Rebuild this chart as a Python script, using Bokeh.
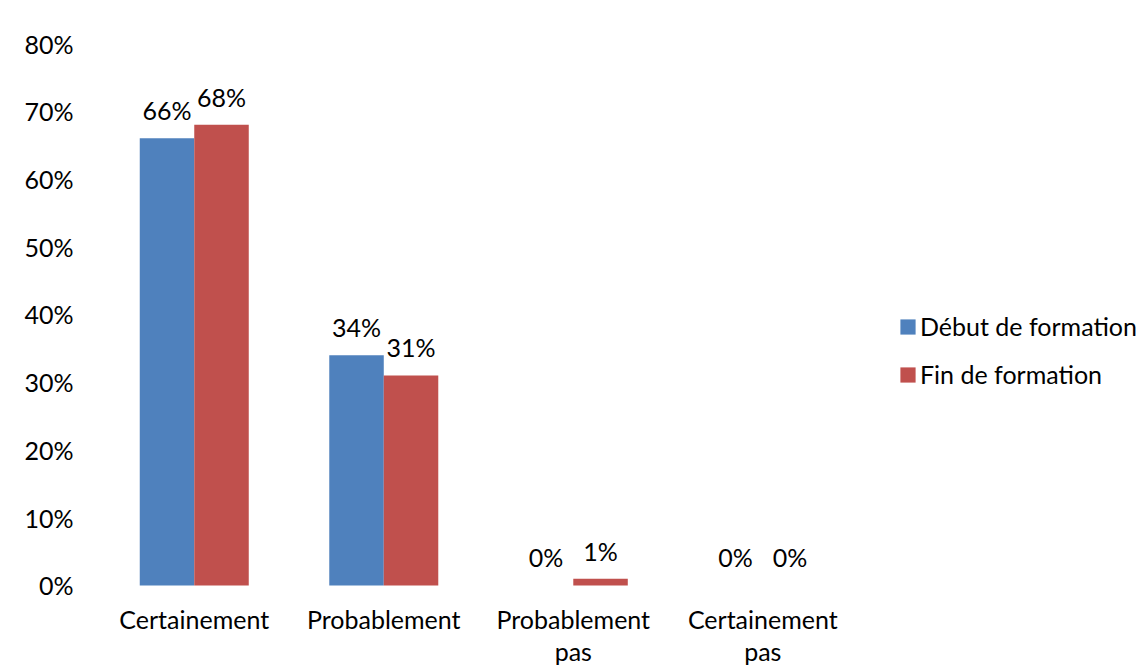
from bokeh.plotting import figure
from bokeh.models import (ColumnDataSource, Legend, LegendItem, NumeralTickFormatter,
                          FixedTicker, Range1d)
from bokeh.core.properties import value
from bokeh.embed import file_html
from bokeh.resources import INLINE

categories = ["Certainement", "Probablement", "Probablement pas", "Certainement pas"]
label_line1 = ["Certainement", "Probablement", "Probablement", "Certainement"]
label_line2 = ["", "", "pas", "pas"]
debut = [0.66, 0.34, 0.00, 0.00]
fin = [0.68, 0.31, 0.01, 0.00]
series_names = ["Début de formation", "Fin de formation"]
y_ticks = [0, 0.1, 0.2, 0.3, 0.4, 0.5, 0.6, 0.7, 0.8]

BLUE = "#4F81BD"
RED = "#C0504D"
FONT = "Lato"
FS = "25px"

idx = list(range(len(categories)))
off = 0.1438
w = 0.2876
src = ColumnDataSource(dict(
    x=idx,
    xd=[i - off for i in idx],
    xf=[i + off for i in idx],
    zero=[0] * len(idx),
    debut=debut,
    fin=fin,
    debut_lbl=[f"{round(v*100)}%" for v in debut],
    fin_lbl=[f"{round(v*100)}%" for v in fin],
    line1=label_line1,
    line2=label_line2,
))

# frame spans the full height; the space below 0 holds the category labels
p = figure(x_range=Range1d(-0.5, 4.993), y_range=Range1d(-0.1196, 0.8), width=1140, height=666,
           output_backend="svg", toolbar_location=None,
           min_border_left=99, min_border_right=0, min_border_top=43, min_border_bottom=0)
p.outline_line_color = None
p.grid.grid_line_color = None
p.background_fill_color = "white"
p.border_fill_color = "white"

r1 = p.vbar(x="xd", top="debut", width=w, source=src, fill_color=BLUE, line_color=None)
r2 = p.vbar(x="xf", top="fin", width=w, source=src, fill_color=RED, line_color=None)

for xc, col, lbl in [("xd", "debut", "debut_lbl"), ("xf", "fin", "fin_lbl")]:
    p.text(x=xc, y=col, text=lbl, source=src,
           text_align="center", text_baseline="bottom", y_offset=-13,
           text_font=value(FONT), text_font_size=FS, text_color="black")

for lbl, yo in [("line1", 49), ("line2", 81)]:
    p.text(x="x", y="zero", text=lbl, source=src,
           text_align="center", text_baseline="bottom", y_offset=yo,
           text_font=value(FONT), text_font_size=FS, text_color="black")

p.yaxis.ticker = FixedTicker(ticks=y_ticks)
p.yaxis.formatter = NumeralTickFormatter(format="0%")
p.yaxis.axis_line_color = None
p.yaxis.major_tick_line_color = None
p.yaxis.minor_tick_line_color = None
p.yaxis.major_tick_out = 0
p.yaxis.major_tick_in = 0
p.yaxis.major_label_text_font = FONT
p.yaxis.major_label_text_font_size = FS
p.yaxis.major_label_text_color = "black"
p.yaxis.major_label_standoff = 26
p.xaxis.visible = False

legend = Legend(items=[LegendItem(label=series_names[0], renderers=[r1]),
                       LegendItem(label=series_names[1], renderers=[r2])],
                location=(799, 277), padding=0, margin=0, spacing=18,
                glyph_width=19, glyph_height=19, label_standoff=3,
                label_text_font=FONT, label_text_font_size=FS, label_text_color="black",
                border_line_color=None, background_fill_alpha=0)
p.add_layout(legend, "center")

open("out.html", "w").write(file_html(p, INLINE))
